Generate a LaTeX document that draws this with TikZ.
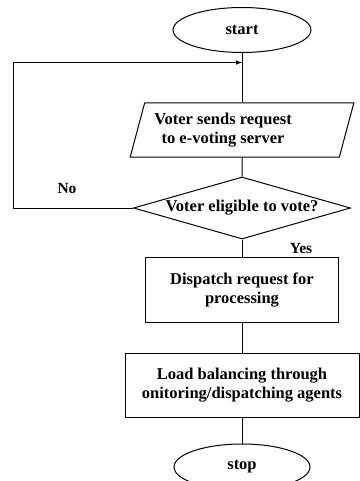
\documentclass[tikz,border=0pt]{standalone}
\usepackage{fontspec}
\setmainfont{Liberation Serif}
\usepackage{tikz}
\usetikzlibrary{arrows,shapes.geometric}

\begin{document}
\begin{tikzpicture}[x=1pt, y=1pt, line width=1pt, font=\bfseries\fontsize{16.5}{19.5}\selectfont,
  term/.style = {draw, ellipse, minimum width=138pt, minimum height=45pt, inner sep=0pt},
  io/.style = {draw, trapezium, trapezium left angle=75, trapezium right angle=105, minimum width=224pt, minimum height=47pt, align=center, inner sep=0pt},
  dec/.style = {draw, diamond, aspect=3.5, minimum width=217pt, minimum height=62pt, inner sep=0pt},
  proc/.style = {draw, rectangle, minimum height=65pt, align=center},
  small/.style = {font=\bfseries\fontsize{15.5}{18}\selectfont}]
\useasboundingbox (0,0) rectangle (359,-481);
\node[term] (start) at (242,-30) {start};
\node[io] (req) [below of=start, node distance=100pt] {\makebox[140pt]{\kern-38pt\begin{tabular}{@{}c@{}}Voter sends request\\to e-voting server\end{tabular}}};
\node[dec] (elig) [below of=req, node distance=78pt] {Voter eligible to vote?};
\node[proc, minimum width=193pt] (disp) [below of=elig, node distance=82pt] {Dispatch request for\\processing};
\node[proc, minimum width=234pt, minimum height=64pt] (load) [below of=disp, node distance=95pt] {Load balancing through\\onitoring/dispatching agents};
\node[term, minimum width=136pt, minimum height=46pt] (stop) [below of=load, node distance=82pt] {stop};
\coordinate (join) at ([yshift=-9.5pt]start.south);
\draw (start) -- (req);
\draw (req) -- (elig);
\draw (elig) -- node[small, right, xshift=44pt] {Yes} (disp);
\draw[-latex] (elig.west) -- ++(-120,0) node[small, pos=0.55, above=11pt] {No} |- (join);
\draw (disp) -- (load);
\draw (load) -- (stop);
\end{tikzpicture}
\end{document}
